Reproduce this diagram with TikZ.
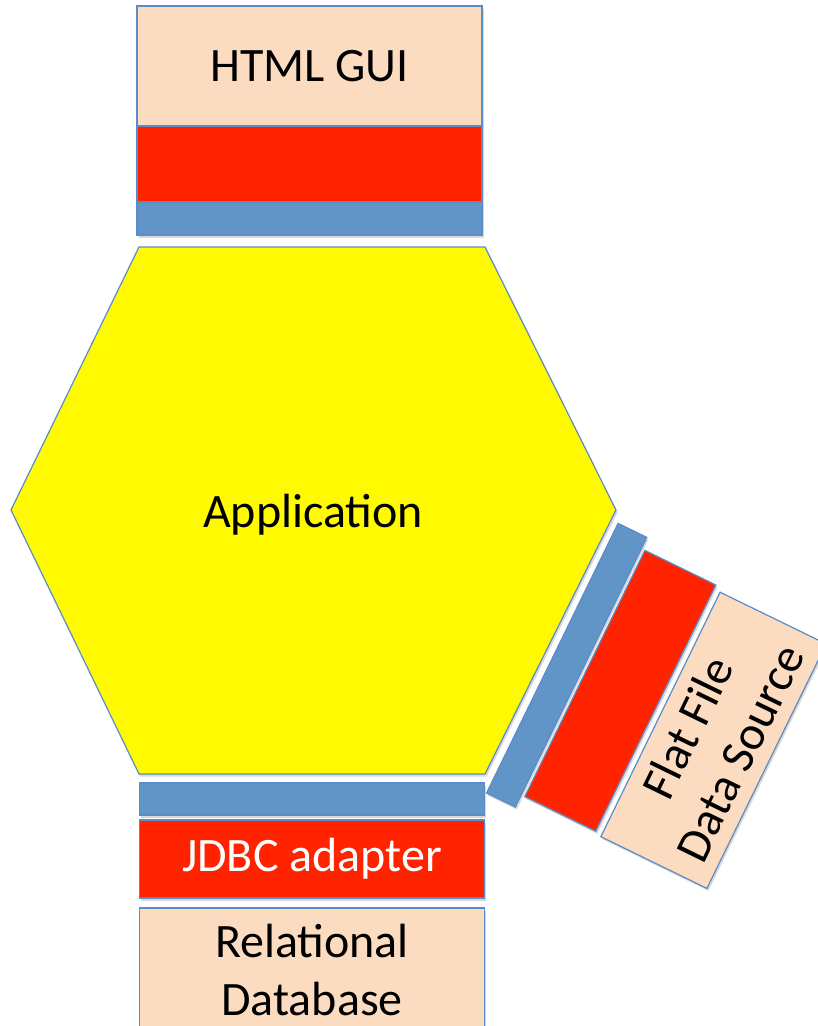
\documentclass[tikz,border=0pt]{standalone}
\usepackage{fontspec}
\setmainfont{Carlito}
\usetikzlibrary{shadows}
\definecolor{peach}{HTML}{FBDCC0}
\definecolor{redbar}{HTML}{FF2300}
\definecolor{bluebar}{HTML}{6195C8}
\definecolor{edgeblue}{HTML}{5B8CC8}
\definecolor{hexyellow}{HTML}{FFFA00}
\begin{document}
\begin{tikzpicture}[x=1pt,y=-1pt,
  shade/.style={drop shadow={shadow xshift=1.5pt, shadow yshift=-2.5pt, opacity=0.3}},
  part/.style={draw=edgeblue, line width=1.2pt, inner sep=0pt, shade,
    font=\fontsize{48}{58}\selectfont, align=center},
  peachbox/.style={part, fill=peach, text=black},
  redbox/.style={part, fill=redbar, text=white},
  bluebox/.style={part, fill=bluebar},
  txt/.style={inner sep=0pt, font=\fontsize{48}{58}\selectfont, align=center}
]
\clip (0,0) rectangle (818,1026);
% top stack
\node[peachbox, minimum width=345pt, minimum height=120pt] (gui) at (309.5,66) {HTML GUI};
\node[redbox, minimum width=345pt, minimum height=76pt] (guiadapter) at (309.5,164) {};
\node[bluebox, minimum width=345pt, minimum height=33pt] (guiport) at (309.5,218.5) {};
% hexagon
\draw[edgeblue, line width=1.2pt, fill=hexyellow, shade]
  (11,510) -- (139,247) -- (485,247) -- (616,510) -- (485,774) -- (139,774) -- cycle;
\node[txt] (app) at (313,515) {Application};
% bottom stack
\node[bluebox, minimum width=345pt, minimum height=32pt] (dbport) at (312,799) {};
\node[redbox, minimum width=345pt, minimum height=78pt] (jdbc) at (312,859) {JDBC adapter};
\node[peachbox, minimum width=345pt, minimum height=124pt] (db) at (312,970) {Relational\\Database};
% right stack
\node[bluebox, rotate=64, minimum width=300pt, minimum height=32pt] (fileport) at (566.7,665.2) {};
\node[redbox, rotate=64, minimum width=274pt, minimum height=79pt] (fileadapter) at (620.3,690.8) {};
\node[peachbox, rotate=64, minimum width=272pt, minimum height=118pt] (flat) at (713.5,740.3) {Flat File\\Data Source};
\end{tikzpicture}
\end{document}
